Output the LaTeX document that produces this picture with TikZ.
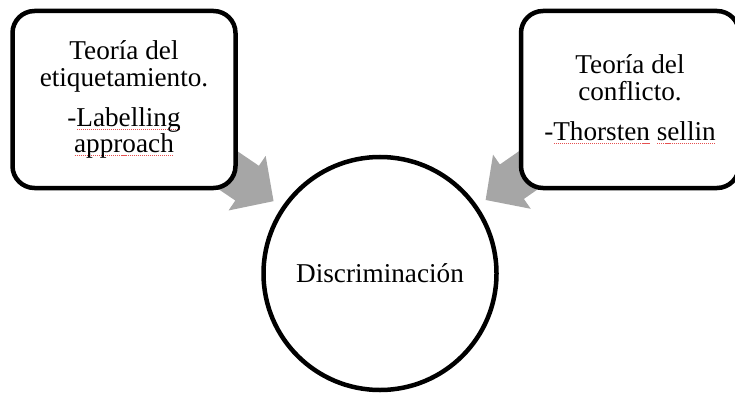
\documentclass[tikz,border=0pt]{standalone}
\usepackage{fontspec}
\setmainfont{Liberation Serif}
\usetikzlibrary{calc,backgrounds}
\definecolor{arrowgray}{RGB}{166,166,166}
\definecolor{spellred}{RGB}{230,80,80}
\newsavebox\sqbox
\newcommand\squig[1]{\sbox\sqbox{#1}\rlap{\raisebox{-3.5pt}{\textcolor{spellred}{\hbox to \wd\sqbox{\xleaders\hbox to 2pt{\hss\rule{1.1pt}{0.8pt}\hss}\hfill}}}}\usebox\sqbox}
% #1 tail coordinate, #2 tip coordinate
\newcommand\blockarrow[2]{%
  \path ($(#2)!32pt!(#1)$) coordinate (ah);
  \fill[arrowgray] ($(#1)!21pt!90:(#2)$) -- ($(ah)!21pt!90:(#2)$) -- ($(ah)!33pt!90:(#2)$) -- (#2)
    -- ($(ah)!33pt!-90:(#2)$) -- ($(ah)!21pt!-90:(#2)$) -- ($(#1)!21pt!-90:(#2)$) -- cycle;}
\tikzset{
  txt/.style={font=\fontsize{27.2}{26.5}\selectfont},
  theorybox/.style={txt, draw, line width=4.5pt, rounded corners=22pt, fill=white,
    align=center, inner sep=0pt, outer sep=0pt, minimum height=177pt},
  centrecircle/.style={txt, draw, circle, line width=4.5pt, fill=white,
    inner sep=0pt, outer sep=0pt, minimum size=233pt}
}
\begin{document}
\begin{tikzpicture}[x=1pt,y=1pt]
\useasboundingbox (0,0) rectangle (735,394);
\clip (0,0) rectangle (735,394);
\node[theorybox, minimum width=223pt] (L) at (124,294.5)
  {Teoría del\\etiquetamiento.\\[13.5pt]-\squig{Labelling}\\\squig{approach}};
\node[theorybox, minimum width=218pt] (R) at (630,294.5)
  {Teoría del\\conflicto.\\[13.5pt]-\squig{Thorsten} \squig{sellin}};
\node[centrecircle] (C) at (380,120.5) {Discriminación};
\coordinate (ltip) at ($(C.center)!128.7pt!(L.center)$);
\coordinate (ltail) at ($(C.center)!218.7pt!(L.center)$);
\coordinate (rtip) at ($(C.center)!128.7pt!(R.center)$);
\coordinate (rtail) at ($(C.center)!218.7pt!(R.center)$);
\begin{scope}[on background layer]
  \blockarrow{ltail}{ltip}
  \blockarrow{rtail}{rtip}
\end{scope}
\end{tikzpicture}
\end{document}
